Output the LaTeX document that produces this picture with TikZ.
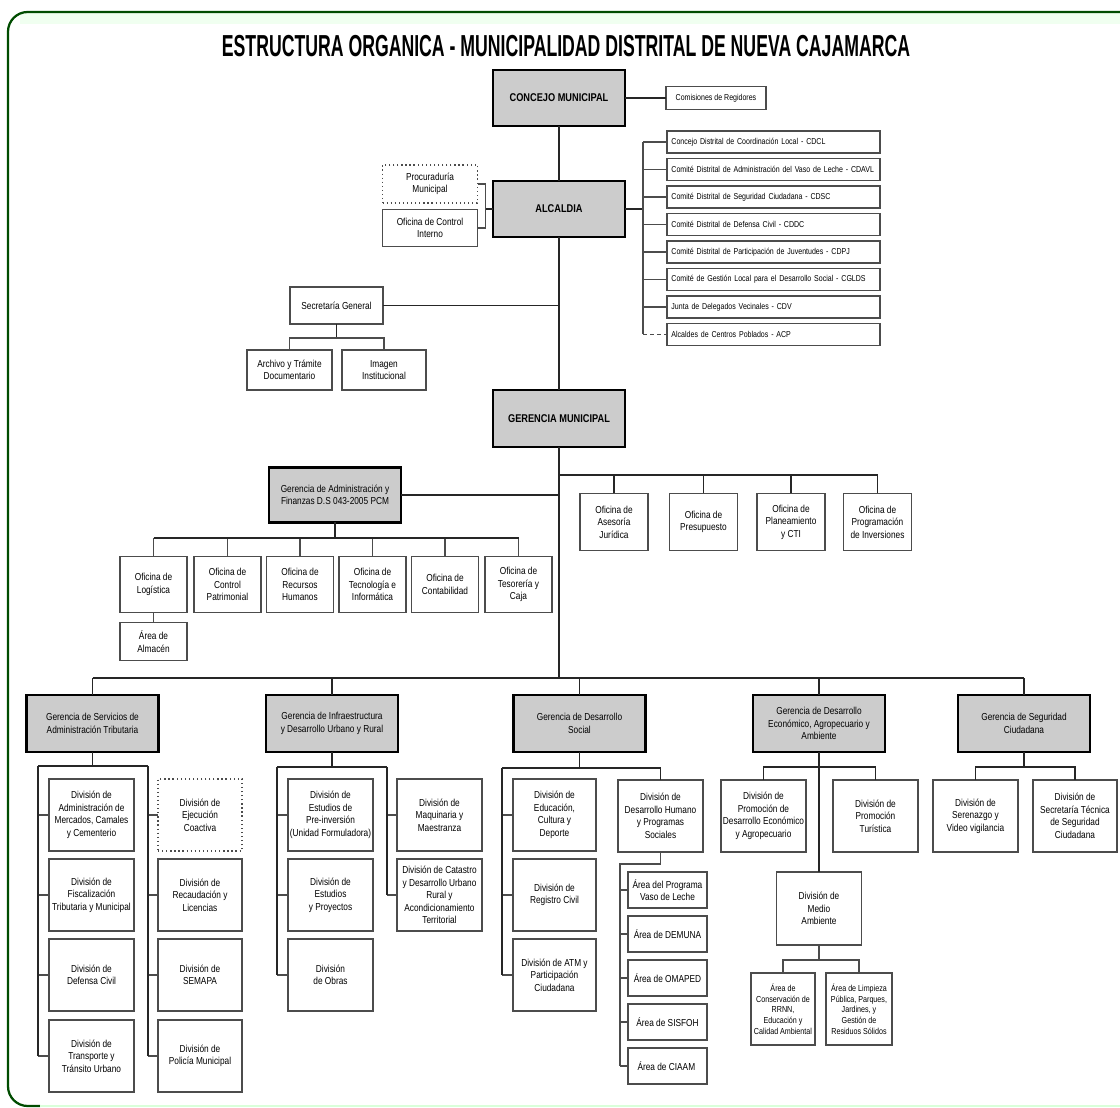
\documentclass[tikz,border=0pt]{standalone}
\usepackage{fontspec}
\setmainfont{Liberation Sans}[FakeStretch=0.82]
\usepackage{graphicx}

\tikzset{
  caja/.style={draw=black!70, line width=0.9pt, fill=white, inner sep=0pt, outer sep=0pt,
    align=center, font=\fontsize{7.2}{8.9}\selectfont},
  gerencia/.style={caja, draw=black, line width=1.6pt, fill=black!20},
  mayor/.style={gerencia, font=\fontsize{8}{9.5}\selectfont\bfseries},
  medida/.style 2 args={minimum width=#1*0.025cm, minimum height=#2*0.025cm},
  comite/.style={caja, font=\fontsize{6.1}{7}\selectfont, text width=5.1cm, align=left,
    minimum width=5.325cm, minimum height=0.55cm},
  chica/.style={font=\fontsize{6.2}{7.6}\selectfont},
  linea/.style={line width=1.3pt, draw=black!85},
  fina/.style={line width=0.8pt, draw=black!70},
}

\begin{document}
\begin{tikzpicture}[x=0.025cm, y=-0.025cm]
    \useasboundingbox (0,0) rectangle (1120,1108);
    % marco
    \fill[green!6] (20,13) rectangle (1120,24);
    \draw[line width=1.6pt, draw=green!30!black, rounded corners=14] (1130,12) -- (8,12) -- (8,1106) -- (40,1106);
    \draw[line width=1.4pt, draw=green!15] (40,1106) -- (1130,1106);

    % titulo
    \node (titulo) at (566,46) {\resizebox{17.2cm}{0.53cm}{\bfseries ESTRUCTURA ORGANICA - MUNICIPALIDAD DISTRITAL DE NUEVA CAJAMARCA}};

    % Concejo y Alcaldia
    \node[mayor, medida={132}{56}] (concejo) at (559,98) {CONCEJO MUNICIPAL};
    \node[caja, font=\fontsize{6.1}{7}\selectfont, medida={100}{23}] (comisiones) at (716,98) {Comisiones de Regidores};
    \node[mayor, medida={132}{56}] (alcaldia) at (559,209) {ALCALDIA};
    \node[caja, dotted, medida={95}{38}] (procuraduria) at (430,184) {Procuraduría\\Municipal};
    \node[caja, medida={95}{37}] (control) at (430,228) {Oficina de Control\\Interno};
    \draw[linea] (concejo.east) -- (comisiones.west);
    \draw[linea] (concejo.south) -- (alcaldia.north);
    \draw[linea] (alcaldia.west) -- ++(-7,0);
    \draw[fina] (procuraduria.east) -- ++(8,0) |- (control.east);

    % Comites
    \foreach \k/\val in {
        1/Concejo Distrital de Coordinación Local - CDCL,
        2/Comité Distrital de Administración del Vaso de Leche - CDAVL,
        3/Comité Distrital de Seguridad Ciudadana - CDSC,
        4/Comité Distrital de Defensa Civil - CDDC,
        5/Comité Distrital de Participación de Juventudes - CDPJ,
        6/Comité de Gestión Local para el Desarrollo Social - CGLDS,
        7/Junta de Delegados Vecinales - CDV,
        8/Alcaldes de Centros Poblados - ACP
        } {
        \node[comite] (comite\k) at (773.5,{142+27.5*(\k-1)}) {\mbox{\val}};
    }
    \draw[linea] (alcaldia.east) -- ++(18,0) coordinate (cbus);
    \draw[fina] (cbus |- comite1.west) -- (cbus |- comite8.west);
    \foreach \k in {1,...,7} \draw[fina] (cbus |- comite\k.west) -- (comite\k.west);
    \draw[fina, densely dashed] (cbus |- comite8.west) -- (comite8.west);

    % Secretaria General
    \node[caja, medida={93}{37}] (secretaria) at (336.5,305.5) {Secretaría General};
    \node[caja, medida={85}{40}] (archivo) at (289.5,370) {Archivo y Trámite\\Documentario};
    \node[caja, medida={84}{40}] (imagen) at (384,370) {Imagen\\Institucional};
    \draw[linea] (secretaria.east) -- (secretaria.east -| alcaldia.south);
    \draw[linea] (secretaria.south) -- ++(0,14) coordinate (sgbus);
    \draw[fina] (archivo.north) |- (sgbus) -| (imagen.north);

    % Gerencia Municipal
    \node[mayor, medida={132}{57}] (gerencia) at (559,418.5) {GERENCIA MUNICIPAL};
    \draw[linea] (alcaldia.south) -- (gerencia.north);
    \coordinate (gmbus) at (559,475);
    \foreach \k/\px/\val in {
        1/614/Oficina de\\Asesoría\\Jurídica,
        2/703.5/Oficina de\\Presupuesto,
        3/791/Oficina de\\Planeamiento\\y CTI,
        4/877.5/Oficina de\\Programación\\de Inversiones
        } {
        \node[caja, medida={68}{57}] (oficina\k) at (\px,522) {\val};
        \draw[linea] (oficina\k.north) -- (oficina\k.north |- gmbus);
    }
    \draw[linea] (gmbus) -- (oficina4.north |- gmbus);

    % Administracion y Finanzas
    \node[gerencia, medida={132}{55}] (admin) at (335,495) {Gerencia de Administración y\\Finanzas D.S 043-2005 PCM};
    \draw[linea] (admin.east) -- (admin.east -| gerencia.south);
    \coordinate (adbus) at (335,538);
    \draw[linea] (admin.south) -- (adbus);
    \foreach \k/\px/\val in {
        1/153.5/Oficina de\\Logística,
        2/227.5/Oficina de\\Control\\Patrimonial,
        3/300/Oficina de\\Recursos\\Humanos,
        4/372.5/Oficina de\\Tecnología e\\Informática,
        5/445/Oficina de\\Contabilidad,
        6/518.5/Oficina de\\Tesorería y\\Caja
        } {
        \node[caja, medida={67}{56}] (ofadm\k) at (\px,584.5) {\val};
        \draw[fina] (ofadm\k.north) -- (ofadm\k.north |- adbus);
    }
    \draw[linea] (ofadm1.north |- adbus) -- (ofadm6.north |- adbus);
    \node[caja, medida={67}{38}] (almacen) at (153.5,641.5) {Área de\\Almacén};
    \draw[fina] (ofadm1.south) -- (almacen.north);

    % Gerencias de linea
    \coordinate (bus) at (559,678);
    \draw[linea] (gerencia.south) -- (bus);
    \foreach \k/\px/\val in {
        1/92.5/Gerencia de Servicios de\\Administración Tributaria,
        2/332/Gerencia de Infraestructura\\y Desarrollo Urbano y Rural,
        3/579.5/Gerencia de Desarrollo\\Social,
        4/819/Gerencia de Desarrollo\\Económico{,} Agropecuario y\\Ambiente,
        5/1024/Gerencia de Seguridad\\Ciudadana
        } {
        \node[gerencia, medida={132}{57}] (ger\k) at (\px,723.5) {\val};
        \draw[linea] (ger\k.north) -- (ger\k.north |- bus);
    }
    \draw[linea] (ger1.north |- bus) -- (ger5.north |- bus);

    % Servicios de Administracion Tributaria
    \coordinate (s1l) at (38,766);
    \coordinate (s1r) at (148,766);
    \draw[linea] (ger1.south) -- (ger1.south |- s1l);
    \draw[linea] (s1l) -- (s1r);
    \foreach \k/\py/\val in {
        1/815/División de\\Administración de\\Mercados{,} Camales\\y Cementerio,
        2/895/División de\\Fiscalización\\Tributaria y Municipal,
        3/975/División de\\Defensa Civil,
        4/1056/División de\\Transporte y\\Tránsito Urbano
        } {
        \node[caja, medida={85}{72}] (trib\k) at (91.5,\py) {\val};
        \draw[fina] (s1l |- trib\k.west) -- (trib\k.west);
    }
    \draw[linea] (s1l) -- (s1l |- trib4.west);
    \node[caja, dotted, medida={84}{72}] (cobro1) at (200,815) {División de\\Ejecución\\Coactiva};
    \foreach \k/\py/\val in {
        2/895/División de\\Recaudación y\\Licencias,
        3/975/División de\\SEMAPA,
        4/1056/División de\\Policía Municipal
        } {
        \node[caja, medida={84}{72}] (cobro\k) at (200,\py) {\val};
    }
    \foreach \k in {1,...,4} \draw[fina] (s1r |- cobro\k.west) -- (cobro\k.west);
    \draw[linea] (s1r) -- (s1r |- cobro4.west);

    % Infraestructura y Desarrollo Urbano y Rural
    \coordinate (s2l) at (277,767);
    \coordinate (s2r) at (387,767);
    \draw[linea] (ger2.south) -- (ger2.south |- s2l);
    \draw[linea] (s2l) -- (s2r);
    \foreach \k/\py/\val in {
        1/815/División de\\Estudios de\\Pre-inversión\\(Unidad Formuladora),
        2/895/División de\\Estudios\\y Proyectos,
        3/975/División\\de Obras
        } {
        \node[caja, medida={85}{72}] (infra\k) at (330.5,\py) {\val};
        \draw[fina] (s2l |- infra\k.west) -- (infra\k.west);
    }
    \draw[linea] (s2l) -- (s2l |- infra3.west);
    \foreach \k/\py/\val in {
        1/815/División de\\Maquinaria y\\Maestranza,
        2/895/División de Catastro\\y Desarrollo Urbano\\Rural y\\Acondicionamiento\\Territorial
        } {
        \node[caja, medida={85}{72}] (urb\k) at (439.5,\py) {\val};
        \draw[fina] (s2r |- urb\k.west) -- (urb\k.west);
    }
    \draw[linea] (s2r) -- (s2r |- urb2.west);

    % Desarrollo Social
    \coordinate (s3l) at (502,768);
    \draw[linea] (ger3.south) -- (ger3.south |- s3l);
    \foreach \k/\py/\val in {
        1/815/División de\\Educación{,}\\Cultura y\\Deporte,
        2/895/División de\\Registro Civil,
        3/975/División de ATM y\\Participación\\Ciudadana
        } {
        \node[caja, medida={83}{72}] (social\k) at (554.5,\py) {\val};
        \draw[fina] (s3l |- social\k.west) -- (social\k.west);
    }
    \draw[linea] (s3l) -- (s3l |- social3.west);
    \node[caja, medida={85}{72}] (humano) at (660.5,816) {División de\\Desarrollo Humano\\y Programas\\Sociales};
    \draw[linea] (s3l) -| (humano.north);
    \coordinate (s3a) at (620,864);
    \foreach \k/\val in {
        1/Área del Programa\\Vaso de Leche,
        2/Área de DEMUNA,
        3/Área de OMAPED,
        4/Área de SISFOH,
        5/Área de CIAAM
        } {
        \node[caja, medida={79}{36}] (area\k) at (667.5,{890+44*(\k-1)}) {\val};
        \draw[fina] (s3a |- area\k.west) -- (area\k.west);
    }
    \draw[fina] (humano.south) |- (s3a) -- (s3a |- area5.west);

    % Desarrollo Economico, Agropecuario y Ambiente
    \coordinate (s4b) at (819,767);
    \node[caja, medida={85}{72}] (promo1) at (763.5,816) {División de\\Promoción de\\Desarrollo Económico\\y Agropecuario};
    \node[caja, medida={85}{72}] (promo2) at (875.5,816) {División de\\Promoción\\Turística};
    \node[caja, medida={85}{73}] (medio) at (819,908.5) {División de\\Medio\\Ambiente};
    \draw[linea] (ger4.south) -- (medio.north);
    \draw[linea] (promo1.north) |- (s4b) -| (promo2.north);
    \coordinate (s4c) at (819,960);
    \node[caja, chica, medida={64}{72}] (conserva) at (783,1009) {Área de\\Conservación de\\RRNN,\\Educación y\\Calidad Ambiental};
    \node[caja, chica, medida={66}{72}] (limpieza) at (859,1009) {Área de Limpieza\\Pública, Parques,\\Jardines, y\\Gestión de\\Residuos Sólidos};
    \draw[fina] (medio.south) -- (s4c);
    \draw[fina] (conserva.north) |- (s4c) -| (limpieza.north);

    % Seguridad Ciudadana
    \coordinate (s5b) at (1024,767);
    \node[caja, medida={85}{72}] (segur1) at (975.5,816) {División de\\Serenazgo y\\Video vigilancia};
    \node[caja, medida={84}{72}] (segur2) at (1075,816) {División de\\Secretaría Técnica\\de Seguridad\\Ciudadana};
    \draw[linea] (ger5.south) -- (s5b);
    \draw[linea] (segur1.north) |- (s5b) -| (segur2.north);
\end{tikzpicture}
\end{document}
